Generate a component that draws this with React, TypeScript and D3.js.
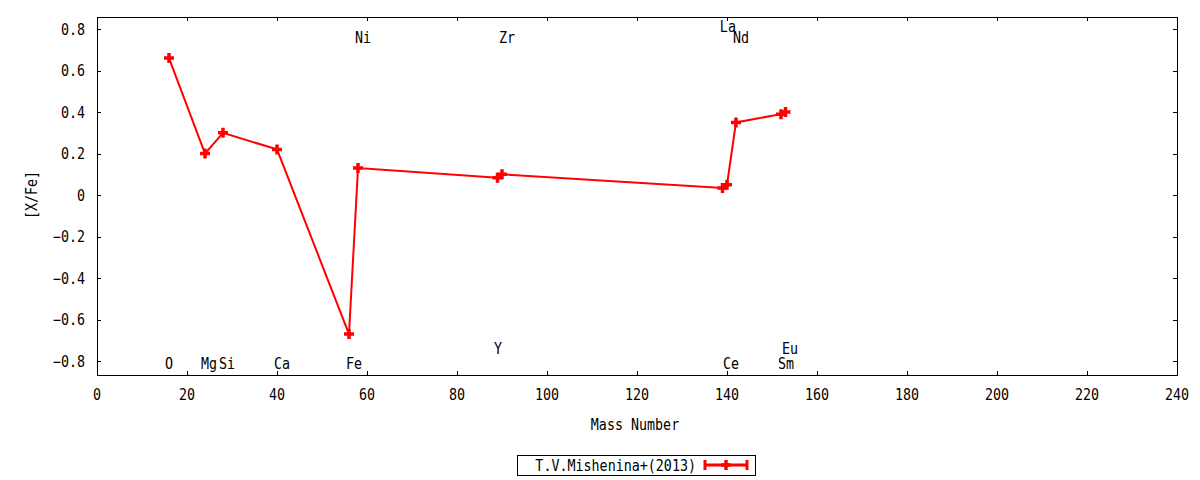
import * as d3 from 'd3'
import { useEffect, useRef } from 'react'

// abundance data: mass number and [X/Fe]
const massNumbers = [16, 24, 28, 40, 56, 58, 89, 90, 139, 140, 142, 152, 153]
const xfeValues = [0.66, 0.20, 0.30, 0.22, -0.67, 0.13, 0.083, 0.10, 0.034, 0.05, 0.35, 0.39, 0.40]

// element labels (x in mass number, y in [X/Fe])
const labelNames = ['O', 'Mg', 'Si', 'Ca', 'Fe', 'Ni', 'Y', 'Zr', 'La', 'Ce', 'Nd', 'Sm', 'Eu']
const labelX = [16, 24.9, 28.9, 41.1, 57.1, 59.1, 89.1, 91.1, 140.2, 140.9, 143.1, 153.1, 154]
const labelY = [-0.81, -0.81, -0.81, -0.81, -0.81, 0.76, -0.74, 0.76, 0.81, -0.81, 0.76, -0.81, -0.74]

const xTicks = d3.range(0, 241, 20)
const yTicks = [-0.8, -0.6, -0.4, -0.2, 0, 0.2, 0.4, 0.6, 0.8]
const legendText = 'T.V.Mishenina+(2013)'

const W = 1200
const H = 480
const FONT = '"DejaVu Sans Mono", monospace'

export default function App() {
    const svgRef = useRef(null) as any

    useEffect(() => {
        const svg = d3.select(svgRef.current)
        svg.selectAll('*').remove()

        const left = 97, right = 1177, top = 17, bottom = 375

        const x = d3.scaleLinear().domain([0, 240]).range([left, right])
        const y = d3.scaleLinear().domain([-0.867, 0.858]).range([bottom, top])

        svg.append('rect')
            .attr('width', W).attr('height', H).attr('fill', 'white')

        const tick = 4
        const g = svg.append('g').attr('stroke', 'black').attr('stroke-width', 1)

        // ticks (inward, mirrored)
        xTicks.forEach(t => {
            const px = Math.round(x(t)) + 0.5
            g.append('line').attr('x1', px).attr('x2', px).attr('y1', bottom).attr('y2', bottom - tick)
            g.append('line').attr('x1', px).attr('x2', px).attr('y1', top).attr('y2', top + tick)
        })
        yTicks.forEach(t => {
            const py = Math.round(y(t)) + 0.5
            g.append('line').attr('x1', left).attr('x2', left + tick).attr('y1', py).attr('y2', py)
            g.append('line').attr('x1', right).attr('x2', right - tick).attr('y1', py).attr('y2', py)
        })

        svg.append('rect')
            .attr('x', left + 0.5).attr('y', top + 0.5)
            .attr('width', right - left).attr('height', bottom - top)
            .attr('fill', 'none').attr('stroke', 'black')

        const txt = svg.append('g')
            .attr('font-family', FONT).attr('font-size', 15).attr('fill', 'black')

        // gnuplot's font is narrow, so squeeze horizontally
        const label = (px: number, py: number, s: string, anchor: string, rot = 0) =>
            txt.append('text')
                .attr('transform', `translate(${px},${py}) rotate(${rot}) scale(0.89,1)`)
                .attr('text-anchor', anchor).text(s)

        xTicks.forEach(t => label(x(t), 400, String(t), 'middle'))
        yTicks.forEach(t => label(85, y(t) + 5.5, t === 0 ? '0' : d3.format('.1f')(t), 'end'))

        label(635, 430, 'Mass Number', 'middle')
        label(37, 195, '[X/Fe]', 'middle', -90)

        labelNames.forEach((n, i) => label(x(labelX[i]), y(labelY[i]) + 5.5, n, 'middle'))

        // data line
        const pts = massNumbers.map((m, i) => [m, xfeValues[i]] as [number, number])
        const line = d3.line<[number, number]>().x(d => x(d[0])).y(d => y(d[1]))
        svg.append('path').datum(pts)
            .attr('d', line).attr('fill', 'none')
            .attr('stroke', '#ff0000').attr('stroke-width', 2)

        const plus = (cx: number, cy: number, s: number) =>
            `M${cx - s},${cy}H${cx + s}M${cx},${cy - s}V${cy + s}`

        svg.append('g').selectAll('path').data(pts).enter().append('path')
            .attr('d', d => plus(x(d[0]), y(d[1]), 5))
            .attr('stroke', '#ff0000').attr('stroke-width', 3.5).attr('fill', 'none')

        // legend
        svg.append('rect')
            .attr('x', 517.5).attr('y', 455.5).attr('width', 238).attr('height', 20)
            .attr('fill', 'none').attr('stroke', 'black')
        label(696, 471, legendText, 'end')
        const lg = svg.append('g').attr('stroke', '#ff0000').attr('stroke-width', 3).attr('fill', 'none')
        lg.append('line').attr('x1', 705).attr('x2', 747).attr('y1', 465).attr('y2', 465)
        lg.append('line').attr('x1', 705).attr('x2', 705).attr('y1', 460).attr('y2', 470)
        lg.append('line').attr('x1', 747).attr('x2', 747).attr('y1', 460).attr('y2', 470)
        lg.append('path').attr('d', plus(726, 465, 5)).attr('stroke-width', 3.5)
    }, [])

    return (
        <div style={{ position: 'fixed', left: 0, top: 0 }}>
            <svg ref={svgRef} width={W} height={H} style={{ display: 'block' }} />
        </div>
    )
}
